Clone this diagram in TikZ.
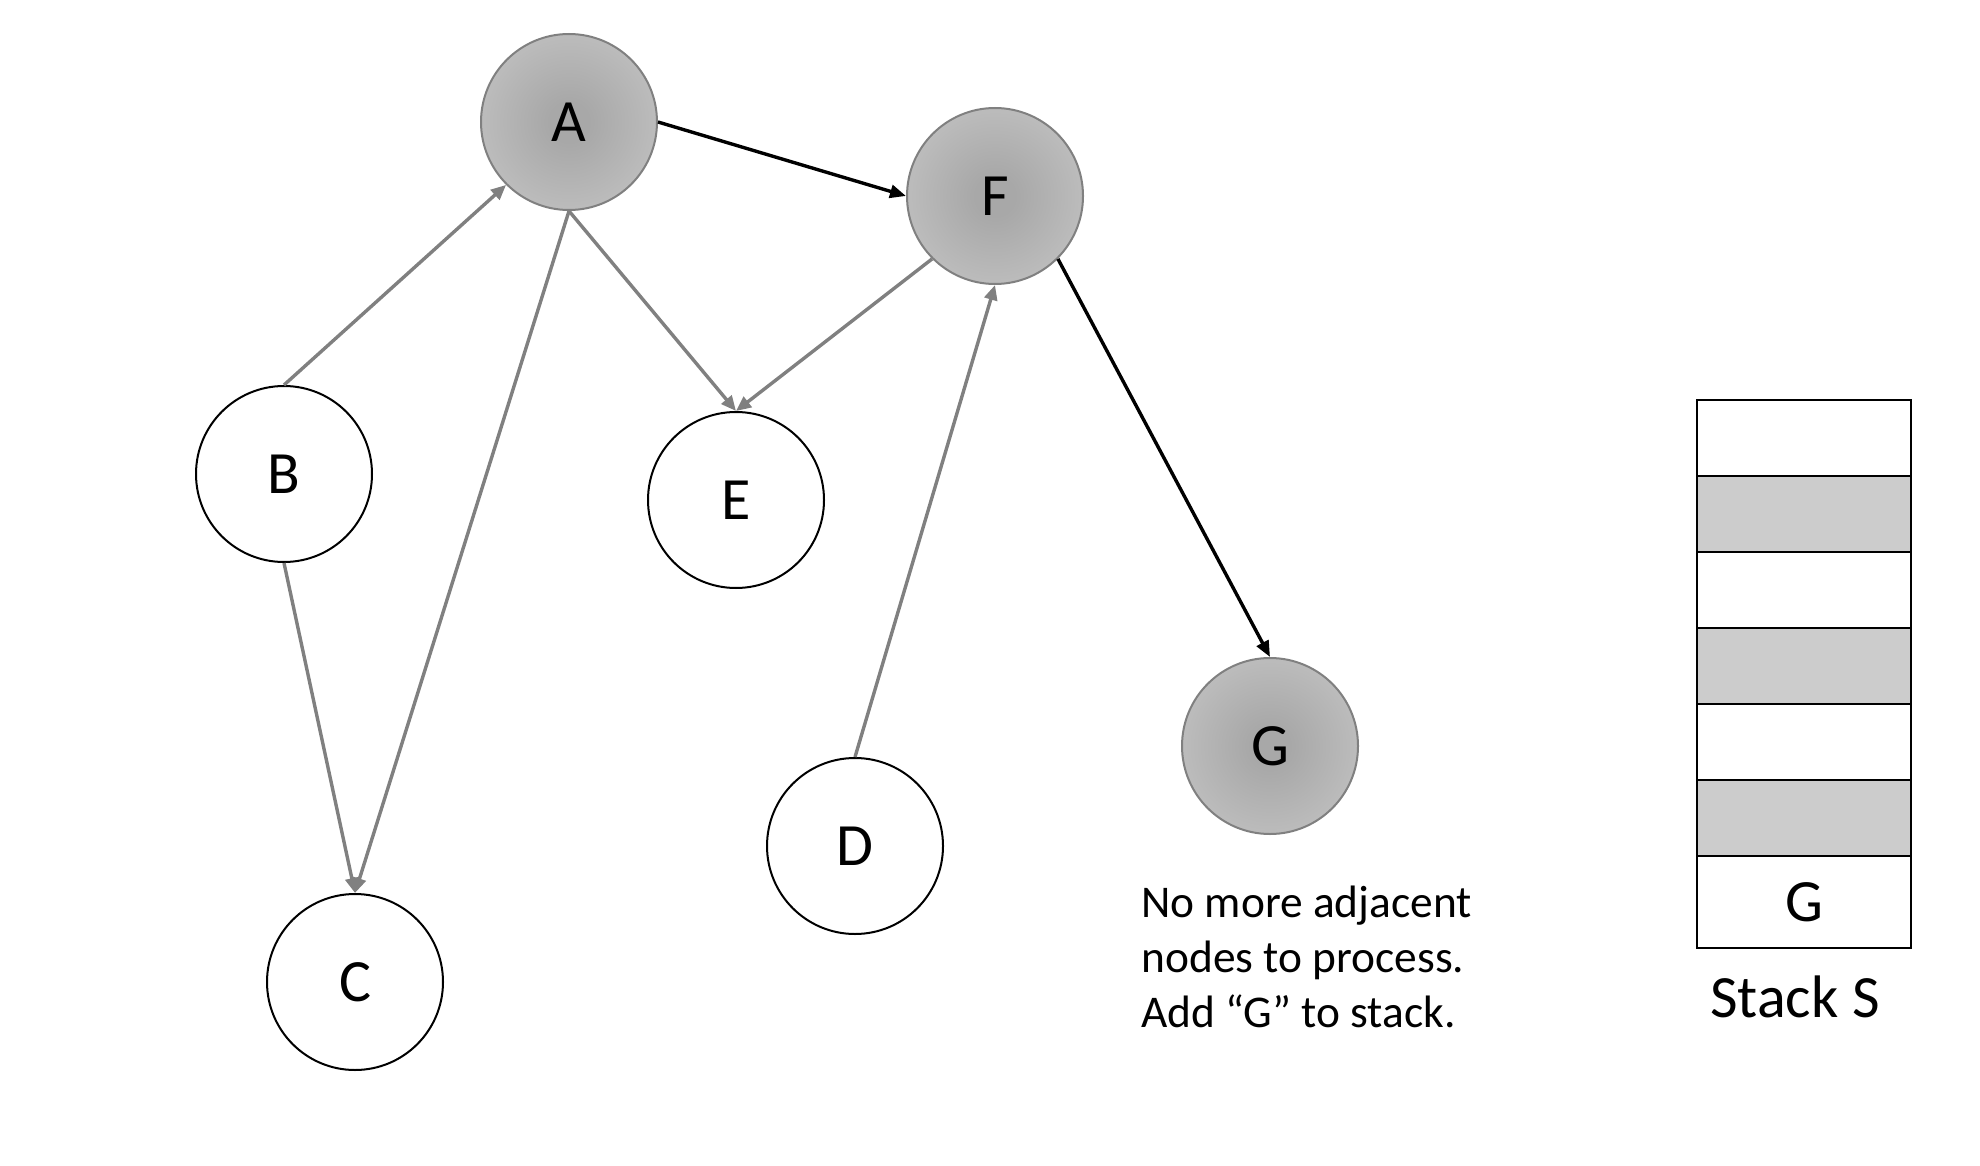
\documentclass[tikz,border=0pt]{standalone}
\usepackage{fontspec}
\setmainfont{Carlito}
\usetikzlibrary{arrows.meta}
\definecolor{shin}{gray}{0.66}
\definecolor{shout}{gray}{0.83}
\definecolor{edgegray}{gray}{0.5}
\definecolor{cellgray}{gray}{0.8}
\pgfdeclareradialshading{ballgray}{\pgfpoint{0bp}{0bp}}{color(0bp)=(shin); color(6bp)=(shin); color(48bp)=(shout); color(50bp)=(shout)}
\begin{document}
\begin{tikzpicture}[x=0.5pt,y=-0.5pt,
  vnode/.style={circle, draw=black, line width=1pt, minimum size=88pt, inner sep=0pt, font=\fontsize{30}{35}\selectfont, fill=white},
  visited/.style={vnode, draw=edgegray, shading=ballgray},
  garrow/.style={draw=edgegray, line width=1.7pt, -{Triangle[length=7.5pt,width=6.5pt]}},
  barrow/.style={draw=black, line width=1.7pt, -{Triangle[length=8pt,width=6.5pt]}},
  cell/.style={draw=black, line width=1.1pt, minimum width=107pt, minimum height=38pt, inner sep=0pt, anchor=north west, font=\fontsize{30}{35}\selectfont},
  shadedcell/.style={cell, fill=cellgray},
]
\useasboundingbox (0,0) rectangle (1980,1166);
% graph nodes
\node[visited] (A) at (569,122) {A};
\node[visited] (F) at (995,196) {F};
\node[visited] (G) at (1270,746) {G};
\node[vnode] (B) at (284,474) {B};
\node[vnode] (E) at (736,500) {E};
\node[vnode] (D) at (855,846) {D};
\node[vnode] (C) at (355,982) {C};
% edges
\draw[garrow] (B.north) -- (A.225);
\draw[garrow] (B.south) -- (C.north);
\draw[garrow] (A.south) -- (C.north);
\draw[garrow] (A.south) -- (E.north);
\draw[garrow] (F.225) -- (E.north);
\draw[garrow] (D.north) -- (F.south);
\draw[barrow] (A.east) -- (F.west);
\draw[barrow] (F.south east) -- (G.north);
% note
\node[anchor=base west, inner sep=0pt, align=left, font=\fontsize{22.7}{27.5}\selectfont] (note) at (1141,1027) {No more adjacent\\nodes to process.\\Add “G” to stack.};
% stack
\node[cell] (s1) at (1696,399) {};
\node[shadedcell] (s2) at (1696,475) {};
\node[cell] (s3) at (1696,551) {};
\node[shadedcell] (s4) at (1696,627) {};
\node[cell] (s5) at (1696,703) {};
\node[shadedcell] (s6) at (1696,779) {};
\node[cell, minimum height=46pt] (s7) at (1696,855) {G};
\node[anchor=base, inner sep=0pt, font=\fontsize{30}{35}\selectfont] (label) at (1795,1017) {Stack S};
\end{tikzpicture}
\end{document}
